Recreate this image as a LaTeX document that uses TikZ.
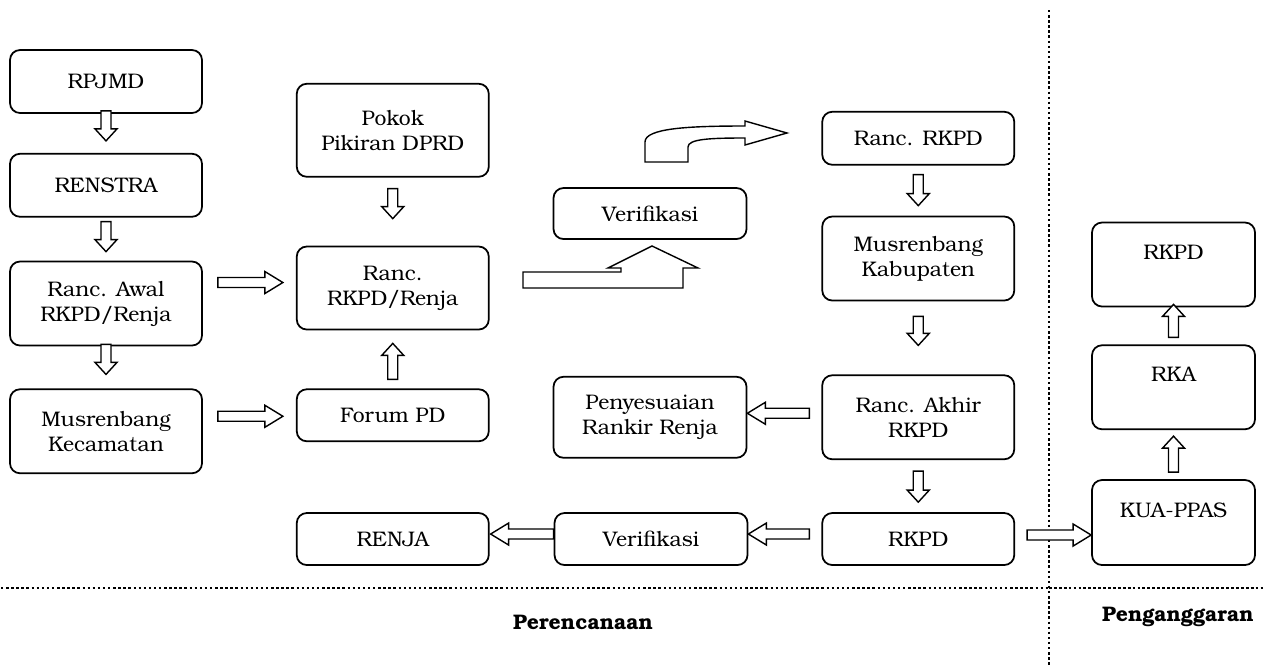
\documentclass[tikz,border=0pt]{standalone}
\usepackage{fontspec}
\setmainfont{texgyrebonum}[Extension=.otf, UprightFont=*-regular, BoldFont=*-bold]
\usetikzlibrary{positioning,calc}

\tikzset{
  box/.style={draw, rounded corners=0.2cm, line width=1pt, align=center,
    minimum width=3.84cm, inner sep=2pt, font=\fontsize{12}{14.2}\selectfont},
  fat/.style={draw, fill=white, line width=0.8pt, to path={
      let \p1=($(\tikztotarget)-(\tikztostart)$), \n1={atan2(\y1,\x1)} in
      ($(\tikztostart)+(\n1+90:0.1cm)$)
      -- ($(\tikztotarget)+(\n1+180:#1)+(\n1+90:0.1cm)$)
      -- ($(\tikztotarget)+(\n1+180:#1)+(\n1+90:0.22cm)$)
      -- (\tikztotarget)
      -- ($(\tikztotarget)+(\n1+180:#1)+(\n1-90:0.22cm)$)
      -- ($(\tikztotarget)+(\n1+180:#1)+(\n1-90:0.1cm)$)
      -- ($(\tikztostart)+(\n1-90:0.1cm)$) -- cycle}},
  fat/.default=0.36cm,
  sep/.style={line width=1.4pt, dash pattern=on 1.4pt off 1.5pt}
}

\begin{document}
\begin{tikzpicture}
      \useasboundingbox (0,0) rectangle (25.3,-13.3);
      \node [box,minimum height=1.26cm] (rpjmd) at (2.12,-1.63) {RPJMD};
      \node [box,minimum height=1.26cm,below=0.78cm of rpjmd] (renstra) {RENSTRA};
      \node [box,minimum height=1.68cm,below=0.86cm of renstra] (awal)
      {Ranc. Awal\\RKPD/Renja};
      \node [box,minimum height=1.68cm,below=0.84cm of awal] (kec)
      {Musrenbang\\Kecamatan};
      \draw[fat=0.24cm] ([yshift=0.06cm]rpjmd.south) to ([yshift=0.24cm]renstra.north);
      \draw[fat=0.24cm] ([yshift=-0.08cm]renstra.south) to ([yshift=0.18cm]awal.north);
      \draw[fat=0.24cm] ([yshift=0.04cm]awal.south) to ([yshift=0.28cm]kec.north);
      \node [box,minimum height=1.66cm,right=1.86cm of awal,yshift=0.31cm] (rancrenja)
      {Ranc.\\RKPD/Renja};
      \node [box,minimum height=1.86cm,above=1.36cm of rancrenja] (pokok)
      {Pokok\\Pikiran DPRD};
      \node [box,minimum height=1.04cm,below=1.16cm of rancrenja] (forum) {Forum PD};
      \node [box,minimum height=1.04cm,below=1.4cm of forum] (renja) {RENJA};
      \draw[fat] ([xshift=0.3cm,yshift=0.42cm]awal.east) to
      ([xshift=-0.26cm,yshift=0.11cm]rancrenja.west);
      \draw[fat] ([xshift=0.3cm,yshift=0.3cm]kec.east) to
      ([xshift=-0.26cm,yshift=-0.02cm]forum.west);
      \draw[fat=0.24cm] ([yshift=-0.22cm]pokok.south) to ([yshift=0.54cm]rancrenja.north);
      \draw[fat=0.24cm] ([yshift=0.18cm]forum.north) to ([yshift=-0.26cm]rancrenja.south);
      \node [box,minimum height=1.04cm,minimum width=3.86cm,right=1.28cm of renja]
      (verif2) {Verifikasi};
      \node [box,minimum height=1.04cm,right=1.46cm of verif2] (rkpd) {RKPD};
      \node [box,minimum height=1.68cm,above=1.04cm of rkpd] (akhir)
      {Ranc. Akhir\\RKPD};
      \node [box,minimum height=1.62cm,minimum width=3.86cm,left=1.48cm of akhir]
      (penyes) {Penyesuaian\\Rankir Renja};
      \node [box,minimum height=1.68cm,above=1.46cm of akhir] (kab)
      {Musrenbang\\Kabupaten};
      \node [box,minimum height=1.06cm,above=1.0cm of kab] (rancrkpd) {Ranc. RKPD};
      \node [box,minimum height=1.02cm,minimum width=3.86cm,above=2.72cm of penyes]
      (verif1) {Verifikasi};
      \draw[fat=0.24cm] ([yshift=-0.18cm]rancrkpd.south) to ([yshift=0.2cm]kab.north);
      \draw[fat=0.24cm] ([yshift=-0.3cm]kab.south) to ([yshift=0.58cm]akhir.north);
      \draw[fat=0.24cm] ([yshift=-0.22cm]akhir.south) to ([yshift=0.2cm]rkpd.north);
      \draw[fat] ([xshift=-0.24cm,yshift=0.08cm]akhir.west) to
      ([yshift=0.08cm]penyes.east);
      \draw[fat] ([xshift=-0.24cm,yshift=0.1cm]rkpd.west) to ([yshift=0.1cm]verif2.east);
      \draw[fat] ([yshift=0.1cm]verif2.west) to ([xshift=0.02cm,yshift=0.1cm]renja.east);
      % bent arrow up to the first check and curved one on to Ranc. RKPD
      \draw[fill=white,line width=0.8pt] (10.46,-5.76) -- (13.66,-5.76) -- (13.66,-5.36)
      -- (13.96,-5.36) -- (13.04,-4.92) -- (12.16,-5.36) -- (12.42,-5.36)
      -- (12.42,-5.44) -- (10.46,-5.44) -- cycle;
      \draw[fill=white,line width=0.8pt] (12.9,-3.24) -- (12.9,-2.84)
      .. controls (12.9,-2.56) and (13.8,-2.52) .. (14.9,-2.52) -- (14.9,-2.42)
      -- (15.74,-2.66) -- (14.9,-2.9) -- (14.9,-2.76)
      .. controls (14.2,-2.76) and (13.76,-2.78) .. (13.76,-2.94) -- (13.76,-3.24) -- cycle;
      \node [box,minimum height=1.7cm,minimum width=3.26cm,right=1.52cm of rkpd,
      yshift=0.33cm] (kua) {KUA-PPAS\\\mbox{}};
      \node [box,minimum height=1.68cm,minimum width=3.26cm,above=0.98cm of kua] (rka)
      {RKA\\\mbox{}};
      \node [box,minimum height=1.68cm,minimum width=3.26cm,above=0.74cm of rka]
      (rkpdfinal) {RKPD\\\mbox{}};
      \draw[fat=0.24cm] ([yshift=0.14cm]kua.north) to ([yshift=-0.12cm]rka.south);
      \draw[fat=0.24cm] ([yshift=0.14cm]rka.north) to ([yshift=0.06cm]rkpdfinal.south);
      % planning | budgeting split
      \draw[sep] (20.98,-0.2) -- (20.98,-13.3);
      \draw[sep] (0.02,-11.76) -- (20.98,-11.76);
      \draw[line width=0.6pt,dash pattern=on 1.6pt off 1.2pt] (20.98,-11.76) -- (25.3,-11.76);
      \draw[fat] ([xshift=0.24cm,yshift=0.08cm]rkpd.east) to ([yshift=-0.25cm]kua.west);
      \node [font=\bfseries\fontsize{12}{14}\selectfont] (plan) at (11.66,-12.44)
      {Perencanaan};
      \node [font=\bfseries\fontsize{12}{14}\selectfont] (budget) at (23.56,-12.34)
      {Penganggaran};
\end{tikzpicture}
\end{document}
